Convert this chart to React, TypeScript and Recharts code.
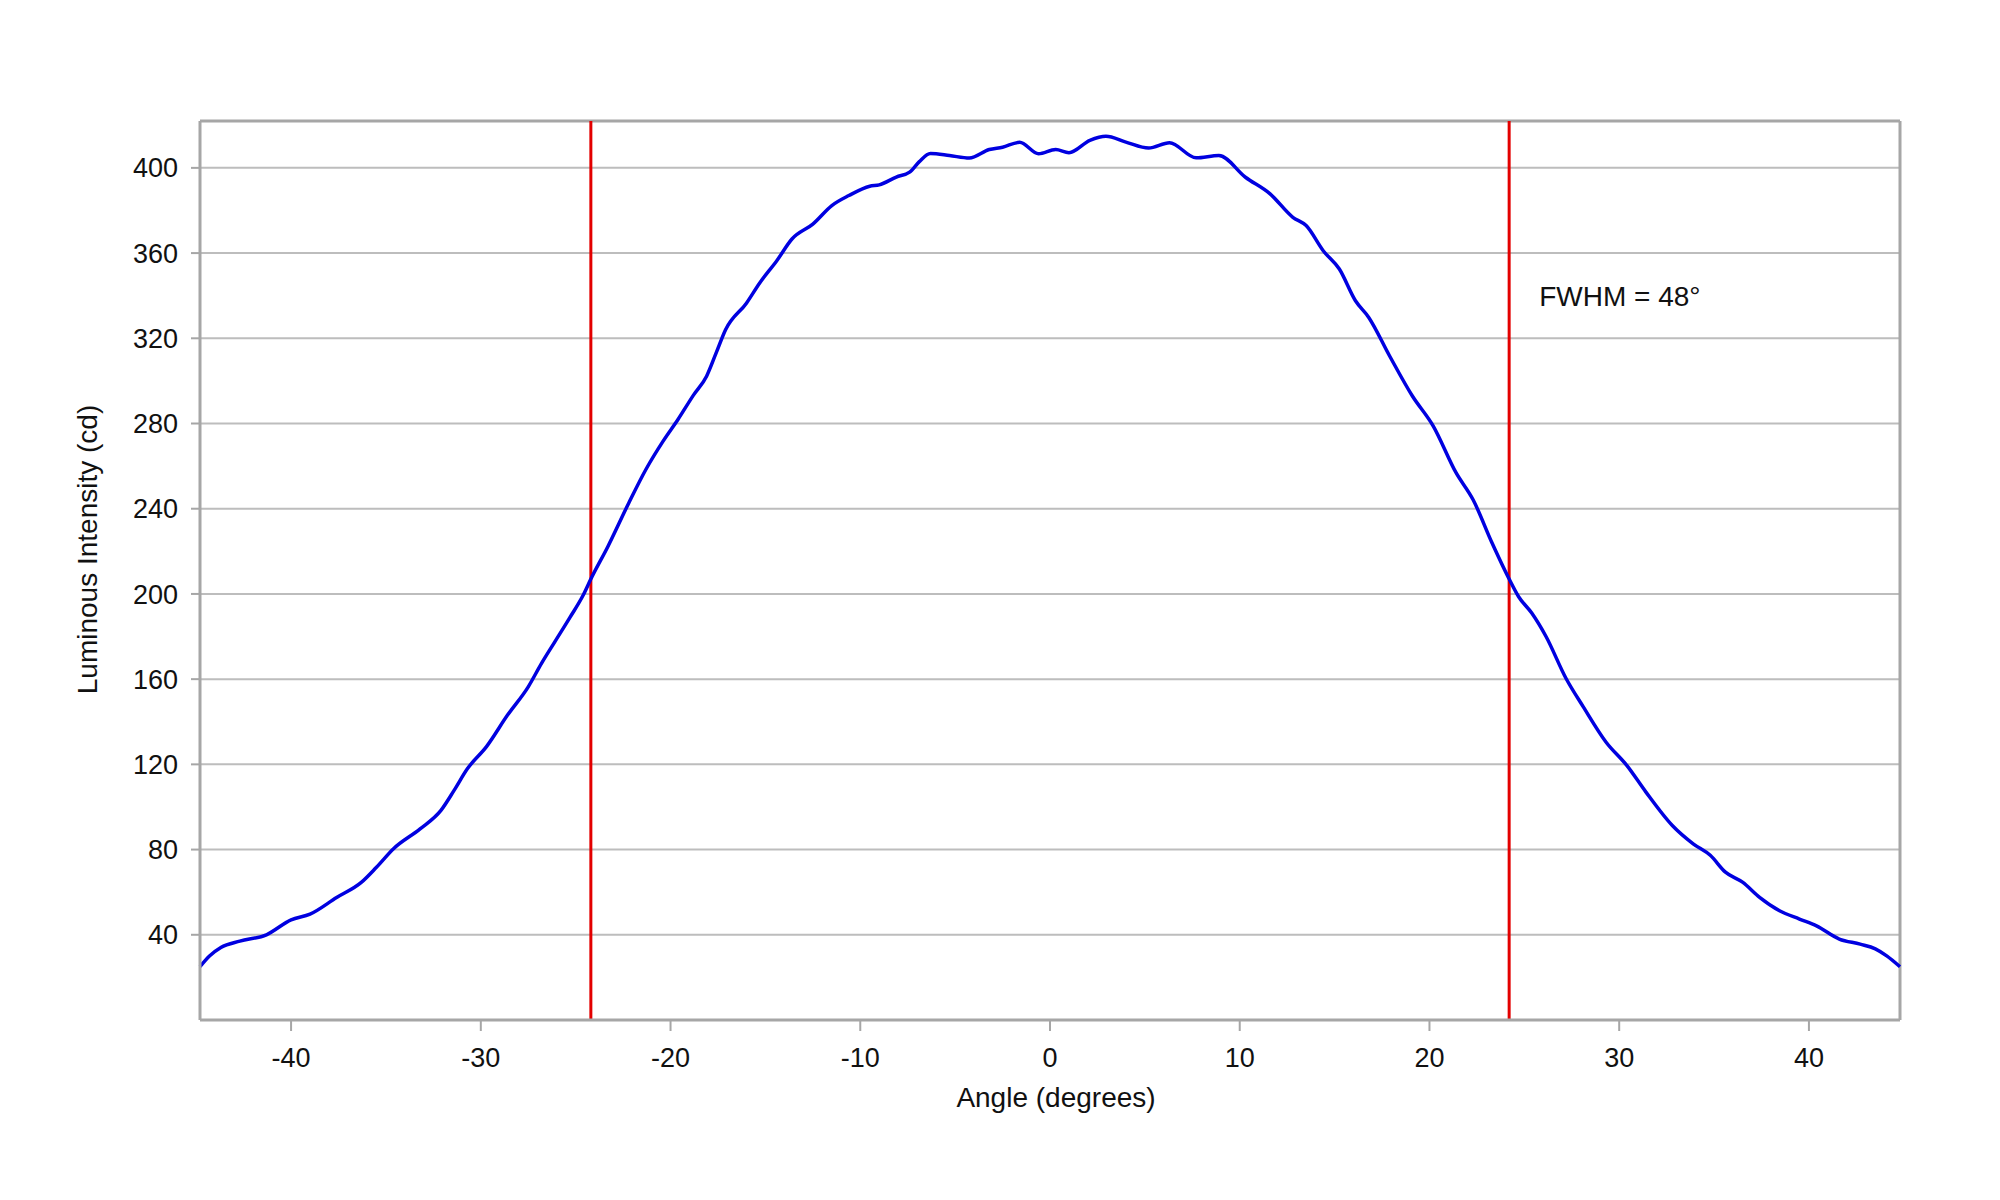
import React from 'react';
import { LineChart, Line, XAxis, YAxis, CartesianGrid, ReferenceLine } from 'recharts';

const angles = [
  -44.8, -44.3, -43.7, -42.7, -41.3, -40.0, -39.0, -37.6, -36.3, -35.5, -34.6, -33.2, -32.1, -31.4, -30.7, -29.7,
  -28.6, -27.5, -26.8, -26.1, -25.3, -24.6, -24.2, -23.3, -22.2, -21.3, -20.4, -19.6, -18.8, -18.1, -17.6, -17.1,
  -16.0, -15.3, -14.4, -13.6, -12.5, -11.5, -10.6, -9.5, -9.0, -8.1, -7.4, -6.9, -6.3, -5.3, -4.25, -3.2, -2.5,
  -1.6, -0.6, 0.3, 1.0, 2.1, 2.95, 4.0, 5.2, 6.3, 7.7, 8.9, 10.3, 11.6, 12.8, 13.5, 14.4, 15.25, 16.1, 16.8, 17.9,
  19.1, 20.2, 21.4, 22.3, 23.3, 24.2, 24.7, 25.4, 26.15, 27.2, 28.1, 29.3, 30.4, 31.4, 32.8, 33.9, 34.8, 35.6,
  36.5, 37.4, 38.45, 39.5, 40.4, 41.6, 42.7, 43.5, 44.1, 44.8,
];

const intensity = [
  25, 30, 34, 37, 40, 47, 49.7, 57.5, 64.6, 71.7, 80.4, 89.7, 98.4, 107.9, 118, 128.3,
  143, 156.4, 167.4, 177.5, 189, 199.5, 207, 222.3, 242.7, 258.4, 271.6, 282, 293.2, 302.2, 313, 324,
  336.5, 346, 356.4, 366.6, 373.6, 382.3, 387, 391.4, 392, 395.7, 398, 402.8, 406.7, 405.8, 404.6, 408.6, 409.7,
  412, 406.6, 408.6, 407.1, 412.9, 414.8, 412.1, 409.3, 411.8, 404.7, 405.8, 395.6, 387.8, 376.8, 372.9, 361.1, 352.5, 337.6, 329.8, 311.7,
  292.9, 278.8, 256.9, 244.2, 223.9, 207, 198.7, 190.9, 179.9, 160.3, 147.1, 130.5, 119.5, 107.1, 91.3, 82.7, 77.3, 69.4,
  64.7, 57.6, 51.3, 47.4, 44.2, 38, 35.6, 33.4, 30.1, 25,
];

const xTicks = [-40, -30, -20, -10, 0, 10, 20, 30, 40];
const yTicks = [40, 80, 120, 160, 200, 240, 280, 320, 360, 400];
const xDomain = [-44.8, 44.8];
const yDomain = [0, 422];
const fwhmLines = [-24.2, 24.2];
const fwhmText = 'FWHM = 48°';
const xTitle = 'Angle (degrees)';
const yTitle = 'Luminous Intensity (cd)';

const data = angles.map((a, i) => ({ angle: a, intensity: intensity[i] }));

const FONT = "'Liberation Sans', Arial, sans-serif";
const AXIS = '#a6a6a6';
const GRID = '#bdbdbd';

export default function App() {
  return (
    <div style={{ position: 'absolute', left: 0, top: 0, width: 2000, height: 1200, background: '#fff', fontFamily: FONT }}>
      <LineChart width={2000} height={1200} data={data} margin={{ top: 121, right: 100, left: 80, bottom: 80 }}>
        <CartesianGrid vertical={false} stroke={GRID} strokeWidth={2} />
        <XAxis
          dataKey="angle"
          type="number"
          domain={xDomain}
          ticks={xTicks}
          interval={0}
          height={100}
          axisLine={{ stroke: AXIS, strokeWidth: 3 }}
          tickLine={{ stroke: AXIS, strokeWidth: 2 }}
          tickSize={11}
          tickMargin={17}
          tick={{ fill: '#111', fontSize: 27, fontFamily: FONT }}
          label={{
            content: (props: any) => {
              const vb = props.viewBox;
              return (
                <text x={vb.x + vb.width / 2 + 6} y={1107} textAnchor="middle" fill="#111" fontSize={28} fontFamily={FONT}>
                  {xTitle}
                </text>
              );
            },
          }}
        />
        <YAxis
          type="number"
          domain={yDomain}
          ticks={yTicks}
          interval={0}
          width={120}
          allowDataOverflow
          axisLine={{ stroke: AXIS, strokeWidth: 3 }}
          tickLine={{ stroke: AXIS, strokeWidth: 2 }}
          tickSize={9}
          tickMargin={13}
          tick={{ fill: '#111', fontSize: 27, fontFamily: FONT }}
          label={{
            content: (props: any) => {
              const vb = props.viewBox;
              const cy = vb.y + vb.height / 2 - 21;
              return (
                <text x={97} y={cy} transform={`rotate(-90 97 ${cy})`} textAnchor="middle" fill="#111" fontSize={28} fontFamily={FONT}>
                  {yTitle}
                </text>
              );
            },
          }}
        />
        <ReferenceLine y={yDomain[1]} stroke={AXIS} strokeWidth={3} />
        <ReferenceLine x={xDomain[1]} stroke={AXIS} strokeWidth={3} />
        <ReferenceLine x={fwhmLines[0]} stroke="#e30000" strokeWidth={3} />
        <ReferenceLine
          x={fwhmLines[1]}
          stroke="#e30000"
          strokeWidth={3}
          label={{
            content: (props: any) => {
              const vb = props.viewBox;
              return (
                <text x={vb.x + 30} y={vb.y + 185} fill="#111" fontSize={28} fontFamily={FONT}>
                  {fwhmText}
                </text>
              );
            },
          }}
        />
        <Line
          type="monotone"
          dataKey="intensity"
          stroke="#0000e0"
          strokeWidth={3.5}
          dot={false}
          activeDot={false}
          isAnimationActive={false}
        />
      </LineChart>
    </div>
  );
}
